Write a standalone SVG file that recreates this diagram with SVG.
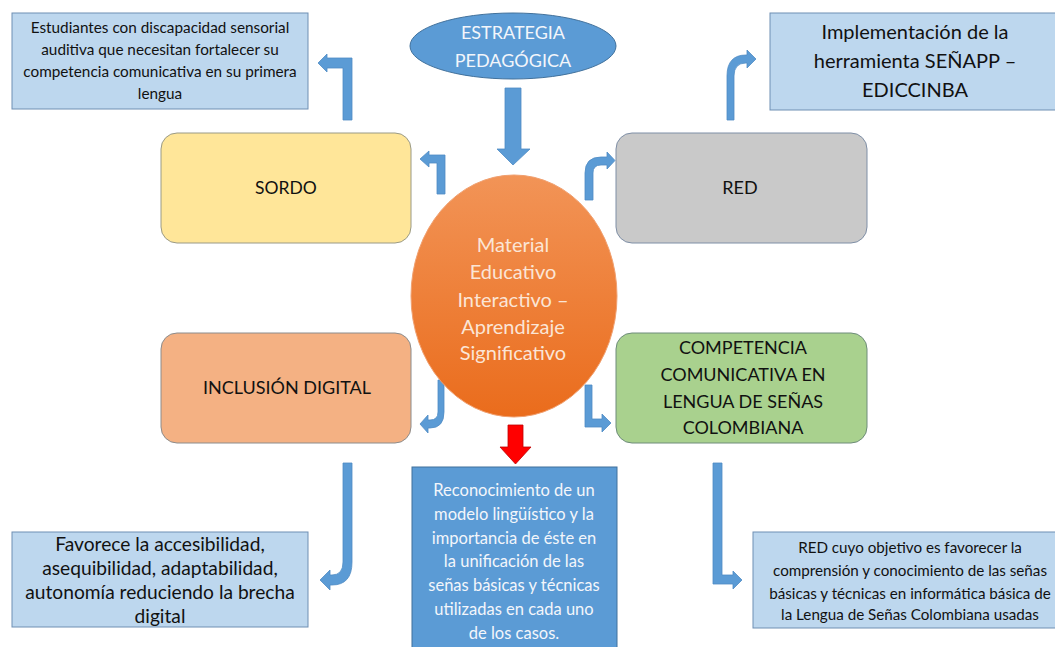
<svg xmlns="http://www.w3.org/2000/svg" width="1055" height="647" viewBox="0 0 1055 647">
<defs>
<linearGradient id="og" x1="0" y1="0" x2="0" y2="1">
<stop offset="0" stop-color="#F29457"/>
<stop offset="1" stop-color="#EA6C1C"/>
</linearGradient>
<style>
text{font-family:Lato,"Liberation Sans",sans-serif;text-anchor:middle}
.lb{fill:#BDD7EE;stroke:#6F8FB3;stroke-width:1}
.dk{fill:#111}
.wt{fill:#F3F6FB}
.arr{fill:#5B9BD5;stroke:#4F8BC4;stroke-width:0.8}
</style>
</defs>
<rect width="1055" height="647" fill="#fff"/>

<g id="connectors">
<path class="arr" d="M505,88 L521,88 L521,149 L530,149 L513,165 L497,149 L505,149 Z"/>
<path class="arr" d="M343,120 L343,68 L327,68 L327,72 L318,63 L327,54 L327,58 L352,58 L352,120 Z"/>
<path class="arr" d="M437,194 L437,163 L429,163 L429,167 L420,159 L429,151 L429,155 L445,155 L445,194 Z"/>
<path class="arr" d="M585,200 L585,173 Q585,157 601,157 L607,157 L607,152 L615,160.5 L607,169 L607,165 L601,165 Q593,165 593,173 L593,200 Z"/>
<path class="arr" d="M727,120 L727,76 Q727,55 746,55 L747,55 L747,50 L756,59 L747,68 L747,63 L746,63 Q734,63 734,76 L734,120 Z"/>
<path class="arr" d="M438,380 L444,380 L444,412 Q444,428 430,428 L428,428 L428,433 L420,424 L428,415 L428,420 L430,420 Q438,420 438,412 Z"/>
<path class="arr" d="M585,385 L592,385 L592,419 L602,419 L602,414 L611,423 L602,432 L602,427 L585,427 Z"/>
<path class="arr" d="M343,463 L352,463 L352,562 Q352,585 332,585 L330,585 L330,590 L320,580 L330,570 L330,575 L332,575 Q343,575 343,562 Z"/>
<path class="arr" d="M713,463 L722,463 L722,575 L733,575 L733,571 L742,580 L733,589 L733,584 L713,584 Z"/>
<path d="M508,425 L523,425 L523,447 L531,447 L515.5,464 L500,447 L508,447 Z" fill="#FF0000" stroke="#C00000" stroke-width="0.8"/>
</g>

<g id="n-estudiantes">
<rect class="lb" x="12" y="13" width="296" height="96"/>
<text class="dk" font-size="15.3"><tspan x="160" y="33">Estudiantes con discapacidad sensorial</tspan><tspan x="160" y="55">auditiva que necesitan fortalecer su</tspan><tspan x="160" y="77">competencia comunicativa en su primera</tspan><tspan x="160" y="99">lengua</tspan></text>
</g>

<g id="n-estrategia">
<ellipse cx="513" cy="46" rx="103" ry="33" fill="#5B9BD5" stroke="#41719C" stroke-width="1"/>
<text class="wt" font-size="18"><tspan x="513" y="39">ESTRATEGIA</tspan><tspan x="513" y="67">PEDAGÓGICA</tspan></text>
</g>

<g id="n-senapp">
<rect class="lb" x="770" y="13" width="290" height="97"/>
<text class="dk" font-size="20"><tspan x="915" y="39">Implementación de la</tspan><tspan x="915" y="68">herramienta SEÑAPP –</tspan><tspan x="915" y="97">EDICCINBA</tspan></text>
</g>

<g id="n-sordo">
<rect x="161" y="133" width="250" height="110" rx="16" fill="#FFE699" stroke="#9A9A86" stroke-width="1"/>
<text class="dk" font-size="17.5" x="286" y="194">SORDO</text>
</g>

<g id="n-red">
<rect x="616" y="133" width="251" height="110" rx="16" fill="#C9C9C9" stroke="#7F8FA6" stroke-width="1"/>
<text class="dk" font-size="18" x="740" y="194">RED</text>
</g>

<g id="n-material">
<ellipse cx="514" cy="296" rx="103" ry="121" fill="url(#og)" stroke="#F0A070" stroke-width="1"/>
<text fill="#FBE5D6" font-size="20"><tspan x="513" y="252">Material</tspan><tspan x="513" y="279">Educativo</tspan><tspan x="513" y="307">Interactivo –</tspan><tspan x="513" y="334">Aprendizaje</tspan><tspan x="513" y="360">Significativo</tspan></text>
</g>

<g id="n-inclusion">
<rect x="161" y="333" width="250" height="110" rx="16" fill="#F4B183" stroke="#8C8C8C" stroke-width="1"/>
<text class="dk" font-size="18" x="287" y="394">INCLUSIÓN DIGITAL</text>
</g>

<g id="n-competencia">
<rect x="616" y="333" width="251" height="110" rx="16" fill="#A9D18E" stroke="#6E8C7A" stroke-width="1"/>
<text class="dk" font-size="18"><tspan x="743" y="354">COMPETENCIA</tspan><tspan x="743" y="381">COMUNICATIVA EN</tspan><tspan x="743" y="408">LENGUA DE SEÑAS</tspan><tspan x="743" y="434">COLOMBIANA</tspan></text>
</g>

<g id="n-reconocimiento">
<rect x="412" y="467" width="205" height="190" fill="#5B9BD5" stroke="#41719C" stroke-width="1"/>
<text class="wt" font-size="16.5"><tspan x="514" y="496">Reconocimiento de un</tspan><tspan x="514" y="520">modelo lingüístico y la</tspan><tspan x="514" y="544">importancia de éste en</tspan><tspan x="514" y="567">la unificación de las</tspan><tspan x="514" y="591">señas básicas y técnicas</tspan><tspan x="514" y="615">utilizadas en cada uno</tspan><tspan x="514" y="639">de los casos.</tspan></text>
</g>

<g id="n-favorece">
<rect class="lb" x="12" y="532" width="296" height="95"/>
<text class="dk" font-size="19.2"><tspan x="160" y="551">Favorece la accesibilidad,</tspan><tspan x="160" y="575">asequibilidad, adaptabilidad,</tspan><tspan x="160" y="599">autonomía reduciendo la brecha</tspan><tspan x="160" y="623">digital</tspan></text>
</g>

<g id="n-red-obj">
<rect class="lb" x="753" y="532" width="310" height="96"/>
<text class="dk" font-size="15.2"><tspan x="910" y="553">RED cuyo objetivo es favorecer la</tspan><tspan x="910" y="576">comprensión y conocimiento de las señas</tspan><tspan x="910" y="599">básicas y técnicas en informática básica de</tspan><tspan x="910" y="620">la Lengua de Señas Colombiana usadas</tspan></text>
</g>
</svg>
